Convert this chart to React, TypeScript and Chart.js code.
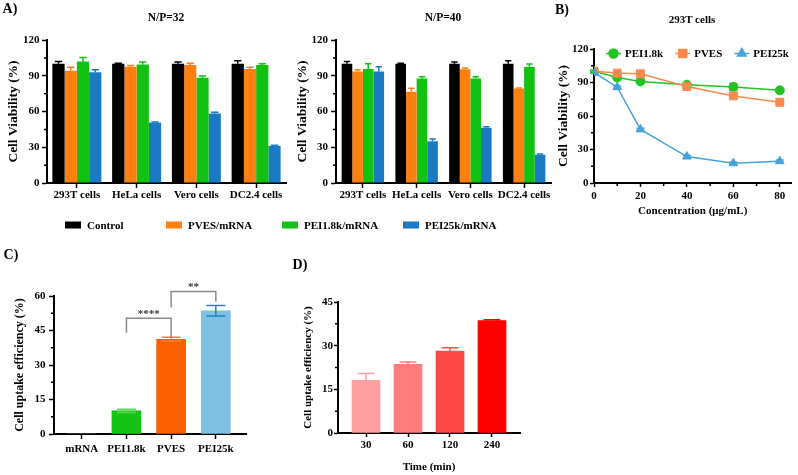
import React, { useEffect, useRef } from 'react';
import { Chart, registerables } from 'chart.js';
import { drawPoint } from 'chart.js/helpers';

Chart.register(...registerables);

const FONT = '"Liberation Serif", "Times New Roman", serif';

// ---------- Panel A : cell viability bars ----------
const cellLines = ['293T cells', 'HeLa cells', 'Vero cells', 'DC2.4 cells'];
const seriesNames = ['Control', 'PVES/mRNA', 'PEI1.8k/mRNA', 'PEI25k/mRNA'];
const seriesColors = ['#000000', '#FF8010', '#12C212', '#1A7BC4'];
const viabilityTicks = [0, 30, 60, 90, 120];

const np32Control = [100, 100, 100, 100];
const np32PVES = [94.2, 97.5, 99, 95.6];
const np32PEI18k = [102, 99.5, 88.3, 99];
const np32PEI25k = [93, 50.7, 58.3, 31.1];
const np32ControlErr = [2, 0.5, 1.5, 2.5];
const np32PVESErr = [3, 1, 1.5, 1.5];
const np32PEI18kErr = [3.4, 2, 1.5, 1];
const np32PEI25kErr = [2, 0.5, 1, 0.5];

const np40Control = [100, 100, 100, 100];
const np40PVES = [93.6, 76.5, 95.5, 79.3];
const np40PEI18k = [95.6, 87.7, 87.7, 97.3];
const np40PEI25k = [93.6, 35, 46.3, 23.8];
const np40ControlErr = [2, 0.5, 1.5, 2.5];
const np40PVESErr = [1.5, 3, 1, 0.5];
const np40PEI18kErr = [4.5, 1.5, 1.5, 2.5];
const np40PEI25kErr = [4, 2, 1, 0.5];

// ---------- Panel B : dose curves ----------
const concentrations = [0, 10, 20, 40, 60, 80];
const concTicks = [0, 20, 40, 60, 80];
const curveNames = ['PEI1.8k', 'PVES', 'PEI25k'];
const curveColors = ['#22C322', '#F98A4F', '#48A2DA'];
const curveMarkers = ['circle', 'rect', 'triangle'];
const curvePEI18k = [100, 94.5, 91, 88, 86, 83];
const curvePVES = [100, 98.4, 97.8, 86.4, 78, 72.3];
const curvePEI25k = [99, 85.8, 48, 23.7, 17.7, 19.5];
const curvePEI18kErr = [1, 1, 1, 1.2, 3, 1];
const curvePVESErr = [1, 1, 1, 1, 1, 1];
const curvePEI25kErr = [1, 1, 1, 1, 1, 1];

// ---------- Panel C : uptake by carrier ----------
const uptakeGroups = ['mRNA', 'PEI1.8k', 'PVES', 'PEI25k'];
const uptakeValues = [0, 10.1, 41.2, 53.6];
const uptakeErr = [0, 0.7, 0.9, 2.3];
const uptakeColors = ['#888888', '#14C414', '#FA6000', '#80C0E2'];
const uptakeErrColors = ['#888888', '#5AD65A', '#FF7A20', '#1A86C8'];
const uptakeTicks = [0, 15, 30, 45, 60];
const sigPairs = [[1, 2], [2, 3]];
const sigLabels = ['****', '**'];
const sigLevels = [50.3, 62];
const sigLeftEnds = [44, 55];
const sigRightEnds = [42, 57.5];

// ---------- Panel D : uptake by time ----------
const timePoints = ['30', '60', '120', '240'];
const timeValues = [18.1, 23.6, 28.1, 38.6];
const timeErr = [2.3, 0.8, 1.2, 0.3];
const timeColors = ['#FFA0A0', '#FF7C7C', '#FF4848', '#FF0000'];
const timeTicks = [0, 15, 30, 45];

// ---------- helpers ----------
type Rect = { left: number; top: number; width: number; height: number };
type Plot = { l: number; t: number; r: number; b: number };

function frame(cv: Rect, p: Plot) {
  return {
    padding: { left: 0, top: p.t - cv.top, right: cv.left + cv.width - p.r, bottom: 0 },
    yWidth: p.l - cv.left,
    xHeight: cv.top + cv.height - p.b,
  };
}

function font(size: number) {
  return { family: FONT, weight: 'bold' as const, size, lineHeight: 1.2 };
}

function midpoints(t: number[]) {
  const out: number[] = [];
  for (let i = 0; i < t.length - 1; i++) out.push((t[i] + t[i + 1]) / 2);
  return out;
}

function yScale(o: {
  min: number; max: number; ticks: number[]; title: string; titleSize: number;
  titlePad: number; width: number; tickLen: number; tickPad: number;
}) {
  return {
    type: 'linear',
    min: o.min,
    max: o.max,
    afterBuildTicks: (s: any) => { s.ticks = o.ticks.map((v) => ({ value: v })); },
    ticks: { color: '#000', font: font(11), padding: o.tickPad },
    grid: { display: true, drawOnChartArea: false, drawTicks: true, tickLength: o.tickLen, tickWidth: 1.5, tickColor: '#000', color: '#000' },
    border: { display: true, color: '#000', width: 2 },
    title: { display: true, text: o.title, color: '#000', font: font(o.titleSize), padding: { top: o.titlePad, bottom: 0 } },
    afterFit: (s: any) => { s.width = o.width; },
  };
}

function xCategory(h: number, tickLen: number, tickPad: number) {
  return {
    type: 'category',
    offset: true,
    grid: { display: true, drawOnChartArea: false, offset: false, drawTicks: true, tickLength: tickLen, tickWidth: 1.5, tickColor: '#000', color: '#000' },
    border: { display: true, color: '#000', width: 2 },
    ticks: { color: '#000', font: font(11), padding: tickPad, maxRotation: 0, autoSkip: false },
    afterFit: (s: any) => { s.height = h; },
  };
}

function xLinear(o: {
  min: number; max: number; ticks: number[]; labels?: string[]; h: number; tickLen: number; tickPad: number;
  title?: string; titleSize?: number; titlePad?: number;
}) {
  return {
    type: 'linear',
    offset: false,
    min: o.min,
    max: o.max,
    afterBuildTicks: (s: any) => { s.ticks = o.ticks.map((v) => ({ value: v })); },
    grid: { display: true, drawOnChartArea: false, offset: false, drawTicks: true, tickLength: o.tickLen, tickWidth: 1.5, tickColor: '#000', color: '#000' },
    border: { display: true, color: '#000', width: 2 },
    ticks: {
      color: '#000', font: font(11), padding: o.tickPad, maxRotation: 0, autoSkip: false,
      callback: (v: any) => (o.labels ? o.labels[Math.round(Number(v))] : String(v)),
    },
    title: o.title
      ? { display: true, text: o.title, color: '#000', font: font(o.titleSize || 11), padding: { top: 0, bottom: o.titlePad || 0 } }
      : { display: false },
    afterFit: (s: any) => { s.height = o.h; },
  };
}

function minorTicks(axis: 'x' | 'y', values: number[], len: number) {
  return {
    id: 'minor' + axis,
    afterDraw(chart: any) {
      const s = chart.scales[axis];
      const a = chart.chartArea;
      const ctx = chart.ctx;
      ctx.save();
      ctx.strokeStyle = '#000';
      ctx.lineWidth = 1.5;
      ctx.beginPath();
      values.forEach((v) => {
        const p = s.getPixelForValue(v);
        if (axis === 'y') { ctx.moveTo(a.left, p); ctx.lineTo(a.left - len, p); }
        else { ctx.moveTo(p, a.bottom); ctx.lineTo(p, a.bottom + len); }
      });
      ctx.stroke();
      ctx.restore();
    },
  };
}

function errorBars(errs: number[][], colors: (string | string[])[], cap: number, both: boolean, behind: boolean) {
  const draw = (chart: any) => {
    const ctx = chart.ctx;
    const y = chart.scales.y;
    chart.data.datasets.forEach((ds: any, di: number) => {
      const meta = chart.getDatasetMeta(di);
      meta.data.forEach((el: any, i: number) => {
        const e = errs[di] ? errs[di][i] : 0;
        if (!e) return;
        const raw = ds.data[i];
        const v = typeof raw === 'number' ? raw : raw.y;
        const col = Array.isArray(colors[di]) ? (colors[di] as string[])[i] : (colors[di] as string);
        const yt = y.getPixelForValue(v + e);
        const yb = both ? y.getPixelForValue(v - e) : y.getPixelForValue(v);
        const half = el.width ? (el.width * cap) / 2 : cap / 2;
        ctx.save();
        ctx.strokeStyle = col;
        ctx.lineWidth = 1.5;
        ctx.beginPath();
        ctx.moveTo(el.x, yb); ctx.lineTo(el.x, yt);
        ctx.moveTo(el.x - half, yt); ctx.lineTo(el.x + half, yt);
        if (both) { ctx.moveTo(el.x - half, yb); ctx.lineTo(el.x + half, yb); }
        ctx.stroke();
        ctx.restore();
      });
    });
  };
  return behind ? { id: 'errbars', beforeDatasetsDraw: draw } : { id: 'errbars', afterDatasetsDraw: draw };
}

const sigPlugin = {
  id: 'sig',
  afterDraw(chart: any) {
    const x = chart.scales.x;
    const y = chart.scales.y;
    const ctx = chart.ctx;
    ctx.save();
    sigPairs.forEach(([a, b], k) => {
      const xa = x.getPixelForValue(a);
      const xb = x.getPixelForValue(b);
      const yl = y.getPixelForValue(sigLevels[k]);
      ctx.strokeStyle = '#8A8A8A';
      ctx.lineWidth = 1.5;
      ctx.beginPath();
      ctx.moveTo(xa, y.getPixelForValue(sigLeftEnds[k]));
      ctx.lineTo(xa, yl);
      ctx.lineTo(xb, yl);
      ctx.lineTo(xb, y.getPixelForValue(sigRightEnds[k]));
      ctx.stroke();
      ctx.fillStyle = '#333';
      ctx.font = `bold 11px ${FONT}`;
      ctx.textAlign = 'center';
      ctx.textBaseline = 'alphabetic';
      ctx.fillText(sigLabels[k], (xa + xb) / 2, yl - 1);
    });
    ctx.restore();
  },
};

const legendOrder = [0, 1, 2];
const curveLegend = {
  id: 'curveLegend',
  afterDraw(chart: any) {
    const ctx = chart.ctx;
    const a = chart.chartArea;
    let x = a.left + 12;
    const yc = a.top + 4.5;
    ctx.save();
    ctx.font = `bold 11px ${FONT}`;
    ctx.textBaseline = 'middle';
    ctx.textAlign = 'left';
    legendOrder.forEach((k) => {
      const ds = chart.data.datasets.find((d: any) => d.label === curveNames[k]);
      ctx.strokeStyle = ds.borderColor;
      ctx.fillStyle = ds.backgroundColor;
      ctx.lineWidth = 1.5;
      ctx.beginPath();
      ctx.moveTo(x, yc); ctx.lineTo(x + 15, yc);
      ctx.stroke();
      drawPoint(ctx, { pointStyle: ds.pointStyle, rotation: 0, radius: ds.pointRadius, borderWidth: 1 } as any, x + 7.5, yc);
      ctx.fillStyle = '#000';
      ctx.fillText(curveNames[k], x + 19, yc + 0.5);
      x += 19 + ctx.measureText(curveNames[k]).width + 12;
    });
    ctx.restore();
  },
};

function baseOptions(padding: any) {
  return {
    responsive: false,
    maintainAspectRatio: false,
    animation: false,
    devicePixelRatio: 1,
    layout: { padding },
    plugins: { legend: { display: false }, tooltip: { enabled: false }, title: { display: false } },
  };
}

// ---------- chart builders ----------
const rectA1: Rect = { left: 0, top: 0, width: 300, height: 210 };
const plotA1: Plot = { l: 47, t: 40, r: 286, b: 183 };
const rectA2: Rect = { left: 290, top: 0, width: 270, height: 210 };
const plotA2: Plot = { l: 336, t: 40, r: 551, b: 183 };
const rectB: Rect = { left: 548, top: 0, width: 250, height: 225 };
const plotB: Plot = { l: 594, t: 49, r: 795, b: 183 };
const rectC: Rect = { left: 0, top: 250, width: 260, height: 215 };
const plotC: Plot = { l: 54, t: 296, r: 246, b: 434 };
const rectD: Rect = { left: 290, top: 250, width: 240, height: 225 };
const plotD: Plot = { l: 338, t: 302, r: 520, b: 433 };

function buildA(cv: Rect, p: Plot, series: number[][], errs: number[][], catPct: number, titlePad: number, tickPad: number) {
  const f = frame(cv, p);
  return {
    type: 'bar',
    data: {
      labels: cellLines,
      datasets: seriesNames.map((n, i) => ({
        label: n, data: series[i], backgroundColor: seriesColors[i], borderWidth: 0,
        barPercentage: 1, categoryPercentage: catPct,
      })),
    },
    options: {
      ...baseOptions(f.padding),
      scales: {
        x: xCategory(f.xHeight, 5, 0.5),
        y: yScale({ min: 0, max: 120, ticks: viabilityTicks, title: 'Cell Viability (%)', titleSize: 13.5, titlePad, width: f.yWidth, tickLen: 5, tickPad }),
      },
    },
    plugins: [errorBars(errs, seriesColors, 0.6, false, false), minorTicks('y', midpoints(viabilityTicks), 3)],
  };
}

function buildB() {
  const f = frame(rectB, plotB);
  const series = [curvePEI18k, curvePVES, curvePEI25k];
  const errs = [curvePEI18kErr, curvePVESErr, curvePEI25kErr];
  const drawOrder = [2, 1, 0];
  return {
    type: 'line',
    data: {
      datasets: drawOrder.map((k) => ({
        label: curveNames[k],
        data: concentrations.map((c, i) => ({ x: c, y: series[k][i] })),
        borderColor: curveColors[k],
        backgroundColor: curveColors[k],
        borderWidth: 1.5,
        pointStyle: curveMarkers[k],
        pointRadius: k === 0 ? 4.5 : k === 1 ? 5.6 : 5,
        pointBorderWidth: 1,
        tension: 0,
      })),
    },
    options: {
      ...baseOptions(f.padding),
      scales: {
        x: xLinear({ min: 0, max: 85, ticks: concTicks, h: f.xHeight, tickLen: 4, tickPad: 3, title: 'Concentration (μg/mL)', titleSize: 11, titlePad: 7 }),
        y: yScale({ min: 0, max: 120, ticks: viabilityTicks, title: 'Cell Viability (%)', titleSize: 13.5, titlePad: 7, width: f.yWidth, tickLen: 4, tickPad: 1.5 }),
      },
    },
    plugins: [
      errorBars(drawOrder.map((k) => errs[k]), drawOrder.map((k) => curveColors[k]), 8, true, true),
      minorTicks('y', midpoints(viabilityTicks), 3),
      minorTicks('x', midpoints(concTicks), 3),
      curveLegend,
    ],
  };
}

function buildC() {
  const f = frame(rectC, plotC);
  return {
    type: 'bar',
    data: {
      datasets: [{
        label: 'uptake',
        data: uptakeValues.map((v, i) => ({ x: i, y: v })),
        backgroundColor: uptakeColors,
        borderWidth: 0,
        barThickness: 29,
      }],
    },
    options: {
      ...baseOptions(f.padding),
      scales: {
        x: xLinear({ min: -0.62, max: 3.675, ticks: [0, 1, 2, 3], labels: uptakeGroups, h: f.xHeight, tickLen: 5, tickPad: 3.5 }),
        y: yScale({ min: 0, max: 60, ticks: uptakeTicks, title: 'Cell uptake efficiency (%)', titleSize: 12, titlePad: 12.5, width: f.yWidth, tickLen: 5, tickPad: 3.5 }),
      },
    },
    plugins: [errorBars([uptakeErr], [uptakeErrColors], 0.65, true, false), minorTicks('y', midpoints(uptakeTicks), 3), sigPlugin],
  };
}

function buildD() {
  const f = frame(rectD, plotD);
  return {
    type: 'bar',
    data: {
      datasets: [{
        label: 'time',
        data: timeValues.map((v, i) => ({ x: i, y: v })),
        backgroundColor: timeColors,
        borderWidth: 0,
        barThickness: 28,
      }],
    },
    options: {
      ...baseOptions(f.padding),
      scales: {
        x: xLinear({ min: -0.667, max: 3.667, ticks: [0, 1, 2, 3], labels: timePoints, h: f.xHeight, tickLen: 4, tickPad: 2, title: 'Time (min)', titleSize: 11, titlePad: 1.5 }),
        y: yScale({ min: 0, max: 45, ticks: timeTicks, title: 'Cell uptake efficiency (%)', titleSize: 11, titlePad: 11.4, width: f.yWidth, tickLen: 4, tickPad: 1 }),
      },
    },
    plugins: [errorBars([timeErr], [timeColors], 0.6, false, false), minorTicks('y', midpoints(timeTicks), 3)],
  };
}

function ChartCanvas({ rect, build }: { rect: Rect; build: () => any }) {
  const ref = useRef<HTMLCanvasElement>(null);
  useEffect(() => {
    const chart = new Chart(ref.current as HTMLCanvasElement, build());
    return () => chart.destroy();
  }, []);
  return (
    <canvas
      ref={ref}
      width={rect.width}
      height={rect.height}
      style={{ position: 'absolute', left: rect.left, top: rect.top, width: rect.width, height: rect.height }}
    />
  );
}

function Label({ x, y, size, children }: { x: number; y: number; size: number; children: React.ReactNode }) {
  return (
    <div
      style={{
        position: 'absolute', left: x, top: y, transform: 'translate(-50%, -50%)',
        font: `bold ${size}px ${FONT}`, color: '#000', whiteSpace: 'nowrap', lineHeight: 1,
      }}
    >
      {children}
    </div>
  );
}

export default function App() {
  const legendCols = [65, 166, 282, 403];
  return (
    <div style={{ position: 'fixed', left: 0, top: 0, width: 798, height: 475, background: '#fff', overflow: 'hidden' }}>
      <ChartCanvas rect={rectA1} build={() => buildA(rectA1, plotA1,
        [np32Control, np32PVES, np32PEI18k, np32PEI25k],
        [np32ControlErr, np32PVESErr, np32PEI18kErr, np32PEI25kErr], 0.82, 5, 2.5)} />
      <ChartCanvas rect={rectA2} build={() => buildA(rectA2, plotA2,
        [np40Control, np40PVES, np40PEI18k, np40PEI25k],
        [np40ControlErr, np40PVESErr, np40PEI18kErr, np40PEI25kErr], 0.79, 4.2, 3)} />
      <ChartCanvas rect={rectB} build={buildB} />
      <ChartCanvas rect={rectC} build={buildC} />
      <ChartCanvas rect={rectD} build={buildD} />

      <Label x={10} y={9} size={14}>A)</Label>
      <Label x={562} y={10} size={14}>B)</Label>
      <Label x={11} y={255} size={14}>C)</Label>
      <Label x={300} y={265} size={14}>D)</Label>
      <Label x={166} y={18} size={11.5}>N/P=32</Label>
      <Label x={443} y={18} size={11.5}>N/P=40</Label>
      <Label x={692} y={19} size={11}>293T cells</Label>

      {seriesNames.map((n, i) => (
        <div key={n} style={{ position: 'absolute', left: legendCols[i], top: 225, transform: 'translateY(-50%)', display: 'flex', alignItems: 'center', whiteSpace: 'nowrap' }}>
          <span style={{ display: 'inline-block', width: 16, height: 7, background: seriesColors[i], marginRight: 6 }} />
          <span style={{ font: `bold 11px ${FONT}`, color: '#000', lineHeight: 1 }}>{n}</span>
        </div>
      ))}
    </div>
  );
}
